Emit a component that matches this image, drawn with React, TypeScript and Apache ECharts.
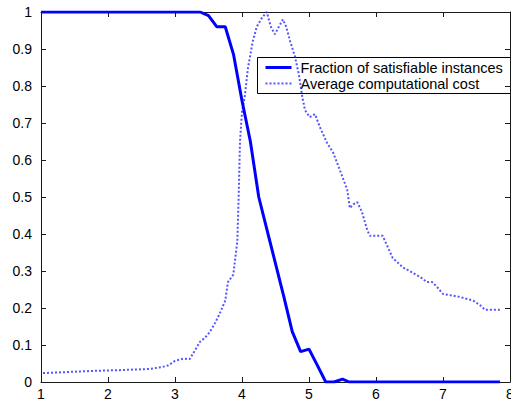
import React, { useEffect, useRef } from "react";
import * as echarts from "echarts";

const xTicks = [1, 2, 3, 4, 5, 6, 7, 8];

const satX = [1.0, 3.375, 3.5, 3.625, 3.75, 3.875, 4.0, 4.125, 4.25, 4.375, 4.5, 4.625, 4.75, 4.875, 5.0, 5.125, 5.25, 5.375, 5.5, 5.6, 7.85];
const satY = [1.0, 1.0, 0.99, 0.96, 0.96, 0.884, 0.76, 0.65, 0.5, 0.41, 0.32, 0.23, 0.136, 0.082, 0.089, 0.045, 0.0, 0.0, 0.008, 0.0, 0.0];

const costX = [1.03, 1.4, 1.78, 2.15, 2.6, 2.8, 2.9, 3.0, 3.12, 3.22, 3.3, 3.37, 3.45, 3.52, 3.6, 3.67, 3.75, 3.79, 3.87, 3.93, 3.95, 3.97, 4.0, 4.04, 4.09, 4.16, 4.22, 4.3, 4.37, 4.43, 4.49, 4.55, 4.61, 4.66, 4.72, 4.79, 4.85, 4.9, 4.94, 5.01, 5.09, 5.16, 5.27, 5.36, 5.46, 5.57, 5.61, 5.66, 5.72, 5.79, 5.87, 5.91, 6.1, 6.25, 6.4, 6.55, 6.69, 6.76, 6.84, 6.91, 7.0, 7.25, 7.45, 7.55, 7.63, 7.85];
const costY = [0.024, 0.027, 0.03, 0.032, 0.035, 0.04, 0.045, 0.057, 0.063, 0.062, 0.086, 0.108, 0.12, 0.135, 0.16, 0.186, 0.22, 0.27, 0.29, 0.38, 0.5, 0.65, 0.73, 0.77, 0.85, 0.92, 0.96, 0.985, 1.0, 0.96, 0.94, 0.96, 0.98, 0.96, 0.92, 0.88, 0.83, 0.77, 0.735, 0.716, 0.724, 0.69, 0.646, 0.62, 0.573, 0.52, 0.47, 0.48, 0.486, 0.46, 0.41, 0.395, 0.395, 0.335, 0.31, 0.295, 0.28, 0.27, 0.27, 0.257, 0.238, 0.23, 0.22, 0.208, 0.195, 0.195];

const seriesNames = ["Fraction of satisfiable instances", "Average computational cost"];

const axisColor = "#1a1a1a";
const mkTick = () => ({ show: true, inside: true, length: 5, lineStyle: { color: axisColor, width: 1 } });
const mkLine = () => ({ show: true, onZero: false, lineStyle: { color: axisColor, width: 1 } });

export default function App() {
  const ref = useRef<HTMLDivElement>(null);
  useEffect(() => {
    if (!ref.current) return;
    const chart = echarts.init(ref.current, null, { renderer: "svg" });
    const font = "Arial, 'Liberation Sans', sans-serif";
    const solidColor = "#0000ff";
    const dotColor = "#2a2aff";
    chart.setOption({
      animation: false,
      backgroundColor: "#ffffff",
      grid: {
        left: 41,
        right: 1,
        top: 12,
        bottom: 19,
        containLabel: false,
        outerBoundsMode: "none",
      },
      xAxis: [
        {
          type: "value",
          min: xTicks[0],
          max: xTicks[xTicks.length - 1],
          interval: 1,
          position: "bottom",
          axisLine: mkLine(),
          axisTick: mkTick(),
          axisLabel: { color: "#000", fontSize: 14, lineHeight: 14, fontFamily: font, margin: 5, showMinLabel: true, showMaxLabel: true },
          splitLine: { show: false },
        },
        {
          type: "value",
          min: xTicks[0],
          max: xTicks[xTicks.length - 1],
          interval: 1,
          position: "top",
          axisLine: mkLine(),
          axisTick: mkTick(),
          axisLabel: { show: false },
          splitLine: { show: false },
        },
      ],
      yAxis: [
        {
          type: "value",
          min: 0,
          max: 1,
          interval: 0.1,
          position: "left",
          axisLine: mkLine(),
          axisTick: mkTick(),
          axisLabel: { color: "#000", fontSize: 14, fontFamily: font, margin: 9 },
          splitLine: { show: false },
        },
        {
          type: "value",
          min: 0,
          max: 1,
          interval: 0.1,
          position: "right",
          axisLine: mkLine(),
          axisTick: mkTick(),
          axisLabel: { show: false },
          splitLine: { show: false },
        },
      ],
      graphic: [
        {
          type: "group",
          left: 257,
          top: 57,
          z: 100,
          children: [
            {
              type: "rect",
              shape: { x: 0, y: 0, width: 256, height: 36 },
              style: { fill: "#ffffff", stroke: "#000000", lineWidth: 1 },
            },
            {
              type: "line",
              shape: { x1: 8, y1: 10, x2: 34, y2: 10 },
              style: { stroke: solidColor, lineWidth: 3 },
            },
            {
              type: "line",
              shape: { x1: 8, y1: 26, x2: 34, y2: 26 },
              style: { stroke: dotColor, lineWidth: 2, lineDash: [2, 2], opacity: 0.8 },
            },
            {
              type: "text",
              x: 43,
              y: 10,
              style: { text: seriesNames[0], fontSize: 14.5, fontFamily: font, fill: "#000", verticalAlign: "middle", align: "left" },
            },
            {
              type: "text",
              x: 43,
              y: 26,
              style: { text: seriesNames[1], fontSize: 14.5, fontFamily: font, fill: "#000", verticalAlign: "middle", align: "left" },
            },
          ],
        },
      ],
      series: [
        {
          name: seriesNames[1],
          type: "line",
          data: costX.map((x, i) => [x, costY[i]]),
          showSymbol: false,
          symbol: "none",
          lineStyle: { color: dotColor, width: 2, type: [2, 2], opacity: 0.8 },
          itemStyle: { color: dotColor },
          z: 2,
        },
        {
          name: seriesNames[0],
          type: "line",
          data: satX.map((x, i) => [x, satY[i]]),
          showSymbol: false,
          symbol: "none",
          lineStyle: { color: solidColor, width: 3, type: "solid" },
          itemStyle: { color: solidColor },
          z: 3,
        },
      ],
    });
    return () => chart.dispose();
  }, []);
  return (
    <div
      ref={ref}
      style={{ position: "absolute", left: 0, top: 0, width: 511, height: 401 }}
    />
  );
}
